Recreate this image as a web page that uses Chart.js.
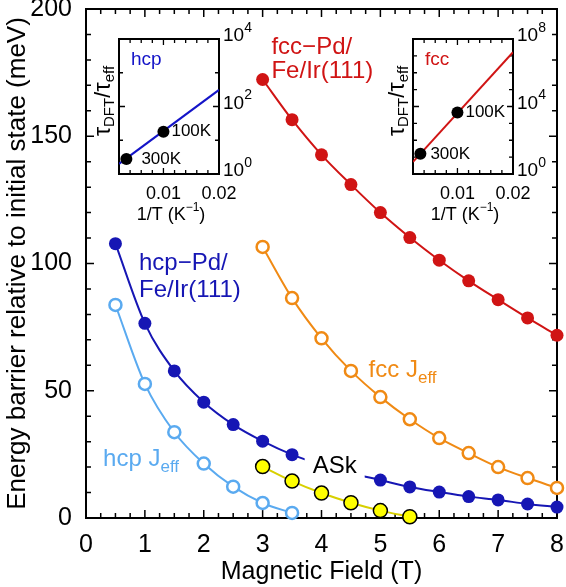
<!DOCTYPE html>
<html>
<head>
<meta charset="utf-8">
<script src="https://cdn.jsdelivr.net/npm/chart.js@4.4.0/dist/chart.umd.min.js"></script>
<style>
  body { margin: 0; background: #fff; }
  #wrap { position: relative; width: 566px; height: 587px; }
  canvas { position: absolute; }
</style>
</head>
<body>
<div id="wrap">
  <canvas id="main" width="566" height="587" style="left:0;top:0"></canvas>
  <canvas id="insetHcp" width="166" height="207" style="left:94px;top:20px"></canvas>
  <canvas id="insetFcc" width="166" height="207" style="left:388px;top:20px"></canvas>
</div>
<script>
// main panel data (meV vs T)
const fieldHcp = [0.5, 1, 1.5, 2, 2.5, 3, 3.5, 4, 4.5, 5, 5.5, 6, 6.5, 7, 7.5, 8];
const hcpPd = [107.8, 76.5, 57.8, 45.5, 36.7, 30.2, 24.9, 20.9, 17.6, 14.9, 12.2, 10.2, 8.4, 7.1, 5.5, 4.3];
const fieldHcpJeff = [0.5, 1, 1.5, 2, 2.5, 3, 3.5];
const hcpJeff = [83.7, 52.7, 33.7, 21.4, 12.3, 5.9, 2.0];
const fieldFcc = [3, 3.5, 4, 4.5, 5, 5.5, 6, 6.5, 7, 7.5, 8];
const fccPd = [172.3, 156.5, 142.7, 131.0, 120.0, 110.2, 101.3, 93.2, 85.8, 78.6, 71.8];
const fccJeff = [106.5, 86.4, 70.6, 57.8, 47.5, 38.8, 31.4, 25.5, 20.0, 15.7, 11.8];
const fieldASk = [3, 3.5, 4, 4.5, 5, 5.5];
const askBarrier = [20.2, 14.5, 9.8, 6.0, 2.9, 0.5];

// inset data (tau ratio vs 1/T)
const invT = [0.00333, 0.01];
const tempLabels = ['300K', '100K'];
const hcpRatio = [2.8, 18];
const fccRatio = [15.6, 4400];
const fitInvT = [0.002, 0.02];
const hcpFit = [2.0, 310];
const fccFit = [5.2, 1.66e7];
const hcpRatioTicks = [1, 1e2, 1e4];
const fccRatioTicks = [1, 1e4, 1e8];
const invTTicks = [0.01, 0.02];

const FONT = '"Liberation Sans", Arial, Helvetica, sans-serif';
Chart.defaults.color = '#000';
Chart.defaults.font.family = FONT;

const RED = '#d01414';
const BLUE = '#1616b4';
const LIGHTBLUE = '#5aaaf0';
const ORANGE = '#f08a14';

const pts = (xs, ys) => xs.map((x, i) => ({ x: x, y: ys[i] }));

function richWidth(ctx, parts) {
  let w = 0;
  for (const p of parts) { ctx.font = p.size + 'px ' + FONT; w += ctx.measureText(p.t).width; }
  return w;
}

function drawRich(ctx, parts, x, y) {
  let cx = x;
  ctx.textAlign = 'left';
  ctx.textBaseline = 'middle';
  for (const p of parts) {
    ctx.font = p.size + 'px ' + FONT;
    ctx.fillText(p.t, cx, y + (p.dy || 0));
    cx += ctx.measureText(p.t).width;
  }
  return cx - x;
}

const frameTicks = {
  id: 'frameTicks',
  beforeDatasetsDraw(chart) {
    const { ctx, chartArea: a, scales: { x, y } } = chart;
    ctx.save();
    ctx.strokeStyle = '#000';
    ctx.lineWidth = 2;
    ctx.strokeRect(a.left, a.top, a.right - a.left, a.bottom - a.top);
    ctx.lineWidth = 1.5;
    ctx.beginPath();
    for (let v = 0.25; v < 8; v += 0.25) {
      const px = x.getPixelForValue(v);
      const L = Number.isInteger(v) ? 8 : 5;
      ctx.moveTo(px, a.bottom); ctx.lineTo(px, a.bottom - L);
      ctx.moveTo(px, a.top); ctx.lineTo(px, a.top + L);
    }
    for (let v = 10; v < 200; v += 10) {
      const py = y.getPixelForValue(v);
      const L = v % 50 === 0 ? 8 : 5;
      ctx.moveTo(a.left, py); ctx.lineTo(a.left + L, py);
      ctx.moveTo(a.right, py); ctx.lineTo(a.right - L, py);
    }
    ctx.stroke();
    ctx.restore();
  },
  afterDatasetDraw(chart, args) {
    if (chart.data.datasets[args.index].label !== 'hcp-Pd') return;
    const { ctx, scales: { x, y } } = chart;
    const px = x.getPixelForValue(3.85), py = y.getPixelForValue(20.4);
    ctx.save();
    ctx.font = '24px ' + FONT;
    const w = ctx.measureText('ASk').width;
    ctx.fillStyle = '#fff';
    ctx.fillRect(px - 8, py - 16, w + 16, 32);
    ctx.fillStyle = '#000';
    drawRich(ctx, [{ t: 'ASk', size: 24 }], px, py);
    ctx.restore();
  },
  afterDatasetsDraw(chart) {
    const { ctx, scales: { x, y } } = chart;
    const at = (vx, vy) => [x.getPixelForValue(vx), y.getPixelForValue(vy)];
    ctx.save();
    ctx.fillStyle = RED;
    let p = at(3.15, 185.1);
    drawRich(ctx, [{ t: 'fcc\u2212Pd/', size: 24 }], p[0], p[1]);
    p = at(3.15, 175.3);
    drawRich(ctx, [{ t: 'Fe/Ir(111)', size: 24 }], p[0], p[1]);
    ctx.fillStyle = BLUE;
    p = at(0.9, 100);
    drawRich(ctx, [{ t: 'hcp\u2212Pd/', size: 24 }], p[0], p[1]);
    p = at(0.9, 89.4);
    drawRich(ctx, [{ t: 'Fe/Ir(111)', size: 24 }], p[0], p[1]);
    ctx.fillStyle = LIGHTBLUE;
    p = at(0.29, 23.1);
    drawRich(ctx, [{ t: 'hcp J', size: 24 }, { t: 'eff', size: 17, dy: 8 }], p[0], p[1]);
    ctx.fillStyle = ORANGE;
    p = at(4.8, 58);
    drawRich(ctx, [{ t: 'fcc J', size: 24 }, { t: 'eff', size: 17, dy: 8 }], p[0], p[1]);
    ctx.restore();
  }
};

const lineDefaults = {
  showLine: true,
  borderWidth: 2,
  cubicInterpolationMode: 'monotone',
  pointRadius: 6.5,
  pointHoverRadius: 6.5,
  clip: false
};

new Chart(document.getElementById('main'), {
  type: 'scatter',
  data: {
    datasets: [
      Object.assign({}, lineDefaults, {
        label: 'ASk', data: pts(fieldASk, askBarrier), order: 0,
        borderColor: '#d8d000', pointRadius: 7, pointHoverRadius: 7,
        pointBackgroundColor: '#ffff00', pointBorderColor: '#000', pointBorderWidth: 1.5
      }),
      Object.assign({}, lineDefaults, {
        label: 'hcp-Pd', data: pts(fieldHcp, hcpPd), order: 1,
        borderColor: BLUE, pointBackgroundColor: BLUE, pointBorderColor: BLUE, pointBorderWidth: 0
      }),
      Object.assign({}, lineDefaults, {
        label: 'hcp Jeff', data: pts(fieldHcpJeff, hcpJeff), order: 2,
        borderColor: LIGHTBLUE, pointBackgroundColor: '#fff', pointBorderColor: LIGHTBLUE, pointBorderWidth: 2.5, pointRadius: 6
      }),
      Object.assign({}, lineDefaults, {
        label: 'fcc-Pd', data: pts(fieldFcc, fccPd), order: 3,
        borderColor: RED, pointBackgroundColor: RED, pointBorderColor: RED, pointBorderWidth: 0
      }),
      Object.assign({}, lineDefaults, {
        label: 'fcc Jeff', data: pts(fieldFcc, fccJeff), order: 4,
        borderColor: ORANGE, pointBackgroundColor: '#fff', pointBorderColor: ORANGE, pointBorderWidth: 2.5, pointRadius: 6
      })
    ]
  },
  options: {
    responsive: false,
    animation: false,
    layout: { padding: { top: 8, right: 8, left: 0, bottom: 0 } },
    plugins: { legend: { display: false }, tooltip: { enabled: false } },
    scales: {
      x: {
        type: 'linear', min: 0, max: 8,
        afterFit: s => { s.height = 69; s.paddingLeft = 0; s.paddingRight = 0; },
        grid: { display: false, drawTicks: false },
        border: { display: false },
        ticks: { stepSize: 1, font: { size: 25 }, padding: 12 },
        title: { display: true, text: 'Magnetic Field (T)', font: { size: 25 }, padding: 0 }
      },
      y: {
        type: 'linear', min: 0, max: 200,
        afterFit: s => { s.width = 86; s.paddingTop = 0; s.paddingBottom = 0; },
        grid: { display: false, drawTicks: false },
        border: { display: false },
        ticks: { stepSize: 50, font: { size: 25 }, padding: 14 },
        title: { display: true, text: 'Energy barrier relative to initial state (meV)', font: { size: 26 }, padding: { top: 2, bottom: 0 } }
      }
    }
  },
  plugins: [frameTicks]
});

function makeInset(id, name, color, fit, ratio, yMax, yTicks, labelGap) {
  const insetDraw = {
    id: 'insetDraw',
    beforeDatasetsDraw(chart) {
      const { ctx, chartArea: a, scales: { x, y } } = chart;
      ctx.save();
      ctx.strokeStyle = '#000';
      ctx.lineWidth = 2;
      ctx.strokeRect(a.left, a.top, a.right - a.left, a.bottom - a.top);
      ctx.lineWidth = 1.3;
      ctx.beginPath();
      for (let k = 2; k < 20; k += 2) {
        const px = x.getPixelForValue(k / 1000);
        const L = k === 10 ? 6 : 4;
        ctx.moveTo(px, a.bottom); ctx.lineTo(px, a.bottom - L);
        ctx.moveTo(px, a.top); ctx.lineTo(px, a.top + L);
      }
      const nDec = Math.round(Math.log10(yMax));
      for (let k = 1; k < nDec; k++) {
        const py = y.getPixelForValue(Math.pow(10, k));
        const L = yTicks.includes(Math.pow(10, k)) ? 6 : 4;
        ctx.moveTo(a.left, py); ctx.lineTo(a.left + L, py);
        ctx.moveTo(a.right, py); ctx.lineTo(a.right - L, py);
      }
      ctx.stroke();
      ctx.restore();
    },
    afterDatasetsDraw(chart) {
      const { ctx, chartArea: a, scales: { x, y } } = chart;
      ctx.save();
      // log tick labels with real superscripts
      ctx.fillStyle = '#000';
      yTicks.forEach(v => {
        const e = String(Math.round(Math.log10(v)));
        drawRich(ctx, [{ t: '10', size: 19 }, { t: e, size: 14, dy: -8 }], a.right + 4, y.getPixelForValue(v) - 3);
      });
      // x title with superscript
      const tParts = [{ t: '1/T (K', size: 18 }, { t: '\u2212', size: 12, dy: -7 }, { t: '1', size: 12, dy: -7 }, { t: ')', size: 18 }];
      drawRich(ctx, tParts, (a.left + a.right) / 2 - richWidth(ctx, tParts) / 2 + 2, a.bottom + 41);
      ctx.fillStyle = color;
      drawRich(ctx, [{ t: name, size: 19 }], a.left + 12, a.top + 21);
      ctx.fillStyle = '#000';
      tempLabels.forEach((t, i) => {
        drawRich(ctx, [{ t: t, size: 17 }], x.getPixelForValue(invT[i]) + labelGap[i], y.getPixelForValue(ratio[i]));
      });
      // rotated y title
      ctx.translate(a.left - 13, 81);
      ctx.rotate(-Math.PI / 2);
      const parts = [{ t: '\u03C4', size: 23 }, { t: 'DFT', size: 15, dy: 6 }, { t: '/\u03C4', size: 23 }, { t: 'eff', size: 15, dy: 6 }];
      const w = richWidth(ctx, parts);
      drawRich(ctx, parts, -w / 2, -2);
      ctx.restore();
    }
  };

  new Chart(document.getElementById(id), {
    type: 'scatter',
    data: {
      datasets: [
        {
          data: pts(invT, ratio), pointRadius: 6, pointHoverRadius: 6,
          pointBackgroundColor: '#000', pointBorderWidth: 0, clip: false
        },
        {
          data: pts(fitInvT, fit), showLine: true, borderColor: color, borderWidth: 2,
          pointRadius: 0, pointHoverRadius: 0
        }
      ]
    },
    options: {
      responsive: false,
      animation: false,
      layout: { padding: { left: 25, top: 19, right: 0, bottom: 0 } },
      plugins: { legend: { display: false }, tooltip: { enabled: false } },
      scales: {
        x: {
          type: 'linear', min: 0.002, max: 0.02,
          afterBuildTicks: s => { s.ticks = invTTicks.map(v => ({ value: v })); },
          afterFit: s => { s.height = 53; s.paddingLeft = 0; s.paddingRight = 0; },
          grid: { display: false, drawTicks: false },
          border: { display: false },
          ticks: { font: { size: 18 }, padding: 9, callback: v => v.toFixed(2) }
        },
        y: {
          type: 'logarithmic', position: 'right', min: 1, max: yMax,
          afterBuildTicks: s => { s.ticks = yTicks.map(v => ({ value: v })); },
          afterFit: s => { s.width = 166 - 125; s.paddingTop = 0; s.paddingBottom = 0; },
          grid: { display: false, drawTicks: false },
          border: { display: false },
          ticks: { display: false }
        }
      }
    },
    plugins: [insetDraw]
  });
}

makeInset('insetHcp', 'hcp', '#1414c8', hcpFit, hcpRatio, 1e4, hcpRatioTicks, [15, 8]);
makeInset('insetFcc', 'fcc', RED, fccFit, fccRatio, 1e8, fccRatioTicks, [10, 8]);
</script>
</body>
</html>
